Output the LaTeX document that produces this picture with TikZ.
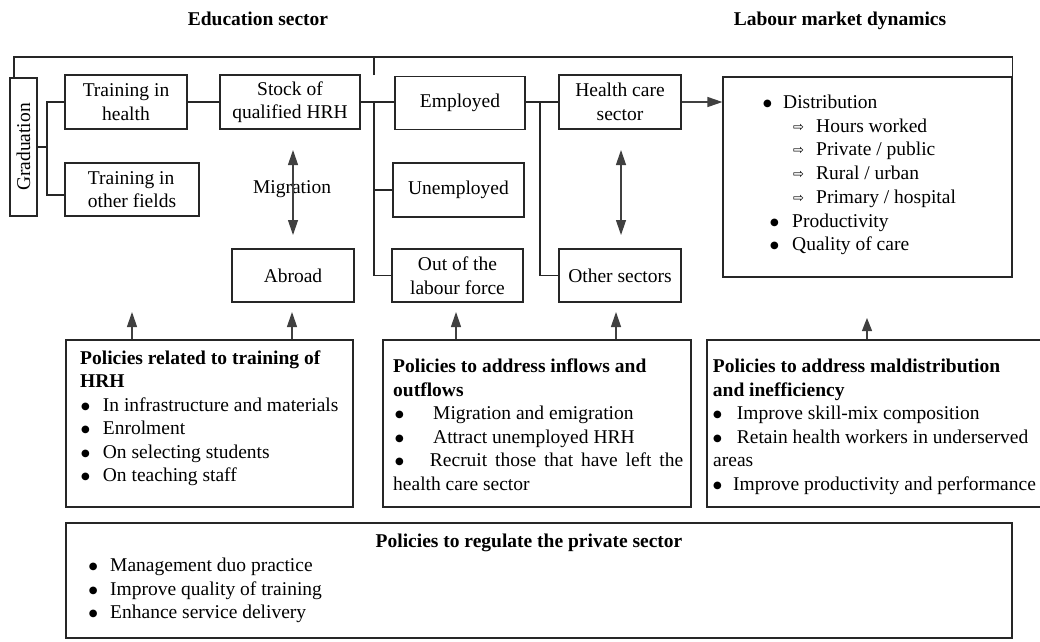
\documentclass[tikz,border=0pt]{standalone}
\usepackage{fontspec}
\setmainfont{Liberation Serif}
\newfontfamily\symfont{DejaVu Sans}
\usetikzlibrary{arrows.meta,calc}
\newcommand{\wa}{\raisebox{1pt}{\symfont\fontsize{13}{14}\selectfont ⇨}}
\newcommand{\bul}{\raisebox{2pt}{\symfont\fontsize{10}{12}\selectfont ●}}
\begin{document}
\begin{tikzpicture}[x=1pt,y=-1pt,
  every node/.style={inner sep=0pt, font=\fontsize{19.5}{23.5}\selectfont},
  box/.style={draw=black!85, line width=1.2pt, align=center},
  ln/.style={draw=black!85, line width=1.2pt},
  arr/.style={draw=black!75, line width=1.2pt, -{Triangle[length=15pt,width=10pt]}},
  sarr/.style={draw=black!75, line width=1.2pt, -{Triangle[length=13pt,width=10pt]}},
  darr/.style={draw=black!75, line width=1.2pt, {Triangle[length=15pt,width=10pt]}-{Triangle[length=15pt,width=10pt]}},
  txt/.style={anchor=base west},
  ttl/.style={anchor=base, font=\fontsize{19.5}{23.5}\selectfont\bfseries},
  btl/.style={anchor=base west, font=\fontsize{19.5}{23.5}\selectfont\bfseries},
]
\useasboundingbox (0,0) rectangle (1040,641);
\fill[white] (0,0) rectangle (1040,641);

% titles
\node[ttl] (edu) at (258,25) {Education sector};
\node[ttl] (lab) at (840,25) {Labour market dynamics};

% boxes
\node[box, rotate=90, minimum width=138pt, minimum height=27pt] (grad) at (23.5,147) {Graduation};
\node[box, minimum width=122pt, minimum height=54pt] (th) at (126,102) {Training in\\health};
\node[box, minimum width=134pt, minimum height=53pt, align=left] (tof) at (132,189.5) {Training in\\other fields};
\node[box, minimum width=140pt, minimum height=54pt] (stock) at (290,102) {Stock of\\qualified HRH};
\node[box, minimum width=130pt, minimum height=53pt] (emp) at (460,103) {Employed};
\node[box, minimum width=131pt, minimum height=54pt] (unemp) at (458.5,190) {Unemployed};
\node[box, minimum width=131pt, minimum height=53pt] (olf) at (457.5,275.5) {Out of the\\labour force};
\node[box, minimum width=122pt, minimum height=54pt] (hcs) at (620,102) {Health care\\sector};
\node[box, minimum width=122pt, minimum height=53pt] (oth) at (620,275.5) {Other sectors};
\node[box, minimum width=122pt, minimum height=53pt] (abroad) at (293,275.5) {Abroad};
\node[box, minimum width=289pt, minimum height=200pt] (rbox) at (867.5,177) {};
\node[box, minimum width=287pt, minimum height=167pt] (ptrain) at (209.5,423.5) {};
\node[box, minimum width=308pt, minimum height=167pt] (pin) at (537,423.5) {};
\node[box, minimum width=334pt, minimum height=167pt] (pmal) at (874,423.5) {};
\node[box, minimum width=946pt, minimum height=115pt] (ppriv) at (539,580.5) {};

\node[anchor=base] (mig) at (292,193) {Migration};

% top bracket
\coordinate (tl) at ($(grad.center)+(-9.5,-69)$);
\coordinate (tr) at (rbox.north east);
\coordinate (top) at (0,57);
\coordinate (tm) at (374,75);
\draw[ln] (tl) |- (top -| tr) -- (tr);
\draw[ln] (tm) -- (tm |- top);

% graduation branches
\coordinate (g1) at (47,147);
\coordinate (tofb) at ($(tof.west)+(0,5.5)$);
\draw[ln] (grad.south) -- (g1);
\draw[ln] (th.west) -| (g1) |- (tofb);
\draw[ln] (th.east) -- (stock.west);

% labour branches
\coordinate (j1) at (374,102);
\draw[ln] (stock.east) -- (emp.west |- stock.east);
\draw[ln] (j1) |- (olf.west);
\draw[ln] (j1 |- unemp.west) -- (unemp.west);
\coordinate (j2) at (540,102);
\draw[ln] (emp.east |- hcs.west) -- (hcs.west);
\draw[ln] (j2) |- (oth.west);
\draw[arr] (hcs.east) -- (rbox.west |- hcs.east);

% double arrows
\coordinate (m1) at (293,150); \coordinate (m2) at (293,235);
\draw[darr] (m1) -- (m2);
\coordinate (h1) at (621,150); \coordinate (h2) at (621,235);
\draw[darr] (h1) -- (h2);

% policy arrows
\coordinate (a1) at (132,312); \draw[arr] (ptrain.north -| a1) -- (a1);
\coordinate (a2) at (292,312); \draw[arr] (ptrain.north -| a2) -- (a2);
\coordinate (a3) at (456,312); \draw[arr] (pin.north -| a3) -- (a3);
\coordinate (a4) at (616,312); \draw[arr] (pin.north -| a4) -- (a4);
\coordinate (a5) at (867,318); \draw[sarr] (pmal.north -| a5) -- (a5);

% right box text
\node[txt] (r1b) at (763,108) {\bul};
\node[txt] (r1) at (783,108) {Distribution};
\node[txt] (r2a) at (793,132) {\wa};
\node[txt] (r2) at (816,132) {Hours worked};
\node[txt] (r3a) at (793,155.5) {\wa};
\node[txt] (r3) at (816,155.5) {Private / public};
\node[txt] (r4a) at (793,179) {\wa};
\node[txt] (r4) at (816,179) {Rural / urban};
\node[txt] (r5a) at (793,203) {\wa};
\node[txt] (r5) at (816,203) {Primary / hospital};
\node[txt] (r6b) at (770,227) {\bul};
\node[txt] (r6) at (792,227) {Productivity};
\node[txt] (r7b) at (770,250.5) {\bul};
\node[txt] (r7) at (792,250.5) {Quality of care};

% training policies
\node[btl] (pt1) at (80,364) {Policies related to training of};
\node[btl] (pt2) at (80,387.5) {HRH};
\node[txt] (pt3b) at (81,411) {\bul};
\node[txt] (pt3) at (102.7,411) {In infrastructure and materials};
\node[txt] (pt4b) at (81,434.5) {\bul};
\node[txt] (pt4) at (102.7,434.5) {Enrolment};
\node[txt] (pt5b) at (81,458) {\bul};
\node[txt] (pt5) at (102.7,458) {On selecting students};
\node[txt] (pt6b) at (81,481.5) {\bul};
\node[txt] (pt6) at (102.7,481.5) {On teaching staff};

% inflow policies
\node[btl] (pi1) at (393,372.5) {Policies to address inflows and};
\node[btl] (pi2) at (393,396) {outflows};
\node[txt] (pi3b) at (395,419.5) {\bul};
\node[txt] (pi3) at (433,419.5) {Migration and emigration};
\node[txt] (pi4b) at (395,443) {\bul};
\node[txt] (pi4) at (433,443) {Attract unemployed HRH};
\node[txt] (pi5) at (395,466.5) {\makebox[288pt][s]{\bul\hspace{26pt}Recruit those that have left the}};
\node[txt] (pi6) at (393,490) {health care sector};

% maldistribution policies
\node[btl] (pm1) at (712.7,372.5) {Policies to address maldistribution};
\node[btl] (pm2) at (712.7,396) {and inefficiency};
\node[txt] (pm3b) at (713,419.5) {\bul};
\node[txt] (pm3) at (736.7,419.5) {Improve skill-mix composition};
\node[txt] (pm4b) at (713,443) {\bul};
\node[txt] (pm4) at (736.7,443) {Retain health workers in underserved};
\node[txt] (pm5) at (713,466.5) {areas};
\node[txt] (pm6b) at (713,490) {\bul};
\node[txt] (pm6) at (733,490) {Improve productivity and performance};

% private sector policies
\node[ttl] (pp1) at (529,547) {Policies to regulate the private sector};
\node[txt] (pp2b) at (88.7,571.5) {\bul};
\node[txt] (pp2) at (110,571.5) {Management duo practice};
\node[txt] (pp3b) at (88.7,595) {\bul};
\node[txt] (pp3) at (110,595) {Improve quality of training};
\node[txt] (pp4b) at (88.7,618.5) {\bul};
\node[txt] (pp4) at (110,618.5) {Enhance service delivery};
\end{tikzpicture}
\end{document}
